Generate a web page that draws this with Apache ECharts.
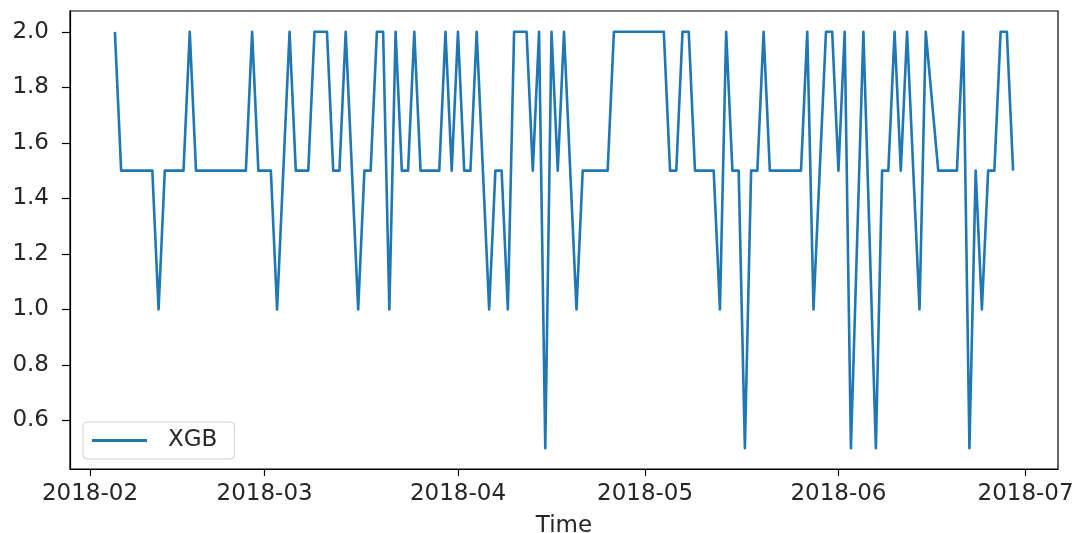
<!DOCTYPE html>
<html lang="en">
<head>
    <meta charset="UTF-8">
    <title>XGB</title>
    <script src="https://cdn.jsdelivr.net/npm/echarts@6/dist/echarts.min.js"></script>
    <style>
        html, body {
            margin: 0;
            padding: 0;
            background-color: #ffffff;
        }
        #chart {
            width: 1084px;
            height: 533px;
        }
    </style>
</head>
<body>
<div id="chart"></div>
<script>
    // daily predictions (days with no visible vertex are left out, the line joins over them)
    var dates = [
        '2018-02-05', '2018-02-06', '2018-02-07', '2018-02-08', '2018-02-09', '2018-02-10', '2018-02-11',
        '2018-02-12', '2018-02-13', '2018-02-14', '2018-02-15', '2018-02-16', '2018-02-17', '2018-02-18',
        '2018-02-19', '2018-02-20', '2018-02-21', '2018-02-22', '2018-02-23', '2018-02-24', '2018-02-25',
        '2018-02-26', '2018-02-27', '2018-02-28',
        '2018-03-01', '2018-03-02', '2018-03-03', '2018-03-05', '2018-03-06', '2018-03-07', '2018-03-08',
        '2018-03-09', '2018-03-10', '2018-03-11', '2018-03-12', '2018-03-13', '2018-03-14', '2018-03-16',
        '2018-03-17', '2018-03-18', '2018-03-19', '2018-03-20', '2018-03-21', '2018-03-22', '2018-03-23',
        '2018-03-24', '2018-03-25', '2018-03-26', '2018-03-27', '2018-03-28', '2018-03-29', '2018-03-30',
        '2018-03-31',
        '2018-04-01', '2018-04-02', '2018-04-03', '2018-04-04', '2018-04-06', '2018-04-07', '2018-04-08',
        '2018-04-09', '2018-04-10', '2018-04-11', '2018-04-12', '2018-04-13', '2018-04-14', '2018-04-15',
        '2018-04-16', '2018-04-17', '2018-04-18', '2018-04-20', '2018-04-21', '2018-04-22', '2018-04-23',
        '2018-04-24', '2018-04-25', '2018-04-26', '2018-04-27', '2018-04-28', '2018-04-29', '2018-04-30',
        '2018-05-01', '2018-05-02', '2018-05-03', '2018-05-04', '2018-05-05', '2018-05-06', '2018-05-07',
        '2018-05-08', '2018-05-09', '2018-05-10', '2018-05-11', '2018-05-12', '2018-05-13', '2018-05-14',
        '2018-05-15', '2018-05-16', '2018-05-17', '2018-05-18', '2018-05-19', '2018-05-20', '2018-05-21',
        '2018-05-22', '2018-05-23', '2018-05-24', '2018-05-25', '2018-05-26', '2018-05-27', '2018-05-28',
        '2018-05-30', '2018-05-31',
        '2018-06-01', '2018-06-02', '2018-06-03', '2018-06-05', '2018-06-07', '2018-06-08', '2018-06-09',
        '2018-06-10', '2018-06-11', '2018-06-12', '2018-06-14', '2018-06-15', '2018-06-17', '2018-06-18',
        '2018-06-19', '2018-06-20', '2018-06-21', '2018-06-22', '2018-06-23', '2018-06-24', '2018-06-25',
        '2018-06-26', '2018-06-27', '2018-06-28', '2018-06-29'
    ];
    var xgb = [
        2.0, 1.5, 1.5, 1.5, 1.5, 1.5, 1.5,
        1.0, 1.5, 1.5, 1.5, 1.5, 2.0, 1.5,
        1.5, 1.5, 1.5, 1.5, 1.5, 1.5, 1.5,
        1.5, 2.0, 1.5,
        1.5, 1.5, 1.0, 2.0, 1.5, 1.5, 1.5,
        2.0, 2.0, 2.0, 1.5, 1.5, 2.0, 1.0,
        1.5, 1.5, 2.0, 2.0, 1.0, 2.0, 1.5,
        1.5, 2.0, 1.5, 1.5, 1.5, 1.5, 2.0,
        1.5,
        2.0, 1.5, 1.5, 2.0, 1.0, 1.5, 1.5,
        1.0, 2.0, 2.0, 2.0, 1.5, 2.0, 0.5,
        2.0, 1.5, 2.0, 1.0, 1.5, 1.5, 1.5,
        1.5, 1.5, 2.0, 2.0, 2.0, 2.0, 2.0,
        2.0, 2.0, 2.0, 2.0, 1.5, 1.5, 2.0,
        2.0, 1.5, 1.5, 1.5, 1.5, 1.0, 2.0,
        1.5, 1.5, 0.5, 1.5, 1.5, 2.0, 1.5,
        1.5, 1.5, 1.5, 1.5, 1.5, 2.0, 1.0,
        2.0, 2.0,
        1.5, 2.0, 0.5, 2.0, 0.5, 1.5, 1.5,
        2.0, 1.5, 2.0, 1.0, 2.0, 1.5, 1.5,
        1.5, 1.5, 2.0, 0.5, 1.5, 1.0, 1.5,
        1.5, 2.0, 2.0, 1.5
    ];
    var yTicks = [0.6, 0.8, 1.0, 1.2, 1.4, 1.6, 1.8, 2.0];
    var monthTicks = ['2018-02-01', '2018-03-01', '2018-04-01', '2018-05-01', '2018-06-01', '2018-07-01'];

    function toTime(s) {
        var p = s.split('-');
        return new Date(+p[0], +p[1] - 1, +p[2]).getTime();
    }

    var first = toTime(dates[0]);
    var last = toTime(dates[dates.length - 1]);
    var pad = (last - first) * 0.05; // matplotlib default margin
    var xTicks = monthTicks.map(toTime);

    var font = 'DejaVu Sans';
    var textColor = '#262626';

    var chart = echarts.init(document.getElementById('chart'), null, {renderer: 'canvas'});
    chart.setOption({
        animation: false,
        backgroundColor: '#ffffff',
        grid: {
            left: 70,
            right: 26,
            top: 11,
            bottom: 64,
            show: true,
            borderColor: '#000',
            borderWidth: 1.2,
            containLabel: false,
            outerBoundsMode: 'none'
        },
        legend: {
            left: 83,
            top: 422,
            padding: [7, 17, 7, 9],
            itemWidth: 55,
            itemHeight: 3,
            icon: 'rect',
            backgroundColor: 'rgba(255,255,255,0.8)',
            borderColor: '#d0d0d0',
            borderWidth: 1,
            borderRadius: 4,
            textStyle: {
                fontFamily: font,
                fontSize: 23,
                color: textColor,
                padding: [0, 0, 0, 16]
            },
            data: ['XGB']
        },
        xAxis: {
            type: 'value',
            min: first - pad,
            max: last + pad,
            name: 'Time',
            nameLocation: 'middle',
            nameGap: 46,
            nameTextStyle: {
                fontFamily: font,
                fontSize: 23,
                color: textColor
            },
            splitLine: {show: false},
            axisLine: {onZero: false, lineStyle: {color: '#000', width: 1.2}},
            axisTick: {
                show: true,
                length: 7,
                lineStyle: {color: '#000', width: 1.2},
                customValues: xTicks
            },
            axisLabel: {
                fontFamily: font,
                fontSize: 23,
                color: textColor,
                margin: 14,
                customValues: xTicks,
                formatter: function (v) {
                    var d = new Date(v);
                    var m = d.getMonth() + 1;
                    return d.getFullYear() + '-' + (m < 10 ? '0' + m : m);
                }
            }
        },
        yAxis: {
            type: 'value',
            min: 0.425,
            max: 2.075,
            splitLine: {show: false},
            axisLine: {show: true, lineStyle: {color: '#000', width: 1.2}},
            axisTick: {
                show: true,
                length: 8,
                lineStyle: {color: '#000', width: 1.2},
                customValues: yTicks
            },
            axisLabel: {
                fontFamily: font,
                fontSize: 23,
                color: textColor,
                margin: 21,
                customValues: yTicks,
                formatter: function (v) {
                    return v.toFixed(1);
                }
            }
        },
        series: [{
            name: 'XGB',
            type: 'line',
            showSymbol: false,
            symbol: 'none',
            data: dates.map(function (d, i) {
                return [toTime(d), xgb[i]];
            }),
            lineStyle: {
                color: '#1f77b4',
                width: 2.6,
                join: 'round'
            },
            itemStyle: {color: '#1f77b4'}
        }]
    });
</script>
</body>
</html>
